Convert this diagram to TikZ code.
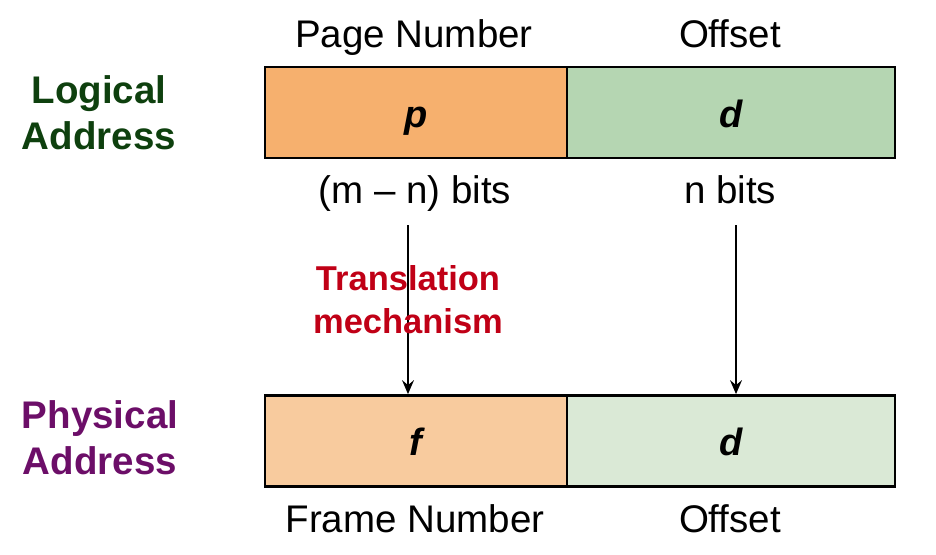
\documentclass[tikz,border=0pt]{standalone}
\usepackage{fontspec}
\setmainfont{Liberation Sans}
\usetikzlibrary{arrows.meta}
\definecolor{orA}{RGB}{246,176,110}
\definecolor{grA}{RGB}{181,214,178}
\definecolor{orB}{RGB}{248,203,158}
\definecolor{grB}{RGB}{218,233,214}
\definecolor{lgc}{RGB}{14,64,14}
\definecolor{phc}{RGB}{108,14,104}
\definecolor{rdc}{RGB}{192,0,22}
\tikzset{
  field/.style={draw=black, line width=2.8pt, minimum height=91pt, inner sep=0pt, text height=29pt, text depth=0pt, font=\fontsize{38}{40}\selectfont\bfseries\itshape},
  lbl/.style={font=\fontsize{38.5}{40}\selectfont, inner sep=0pt, anchor=base},
  side/.style={font=\fontsize{38.5}{46}\selectfont\bfseries, align=center, inner sep=0pt},
  arr/.style={line width=1.4pt, -{Stealth[length=14pt,width=12pt,inset=5pt]}},
}
\begin{document}
\begin{tikzpicture}[x=1pt,y=-1pt]
\useasboundingbox (0,0) rectangle (936,554);
% top boxes
\node[field, fill=orA, minimum width=302pt] (p) at (416,112.5) {p};
\node[field, fill=grA, minimum width=328pt] (d1) at (731,112.5) {d};
% bottom boxes
\node[field, fill=orB, minimum width=302pt] (f) at (416,441) {f};
\node[field, fill=grB, minimum width=328pt] (d2) at (731,441) {d};
% labels
\node[lbl] (pn) at (414,47) {Page Number};
\node[lbl] (of1) at (730,47) {Offset};
\node[lbl] (mn) at (415,203) {(m – n) bits};
\node[lbl] (nb) at (730,203) {n bits};
\node[lbl] (fn) at (415,532) {Frame Number};
\node[lbl] (of2) at (730,532) {Offset};
\node[side, text=lgc] (la) at (99,113) {Logical\\Address};
\node[side, text=phc] (pa) at (100,438) {Physical\\Address};
% arrows
\coordinate (s1) at (408,225);
\coordinate (s2) at (736,225);
\draw[arr] (s1) -- (s1 |- f.north);
\draw[arr] (s2) -- (s2 |- d2.north);
\node[font=\fontsize{34.5}{43}\selectfont\bfseries, text=rdc, align=center, inner sep=0pt] (tm) at (408,300) {Translation\\mechanism};
\end{tikzpicture}
\end{document}
